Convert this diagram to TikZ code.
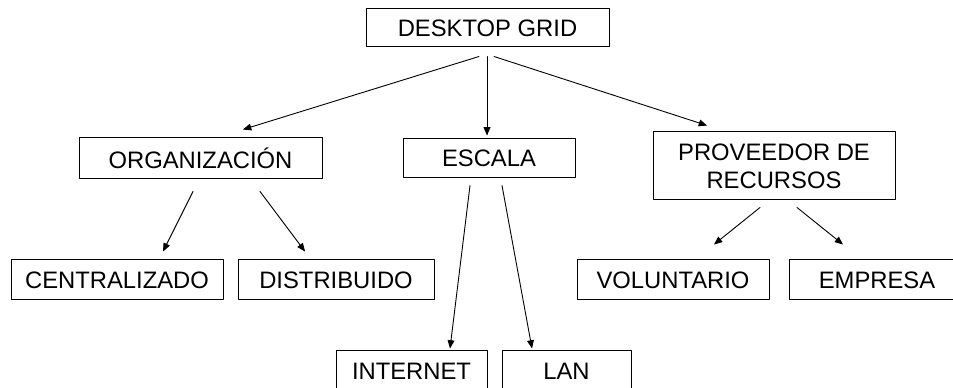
\documentclass[tikz,border=0pt]{standalone}
\usepackage{fontspec}
\setmainfont{Liberation Sans}
\usepackage{tikz}
\usetikzlibrary{arrows}

\begin{document}
\begin{tikzpicture}[line cap=round,line join=round,>=triangle 45,x=1pt,y=1pt,
  caja/.style={draw=black,line width=1pt,inner sep=0pt,align=center,
    font=\fontsize{23.8}{28}\selectfont},
  flecha/.style={->,line width=0.9pt,color=black}]
      \useasboundingbox (0,0) rectangle (953,388);
      \clip (0,0) rectangle (953,388);
      \node[caja,minimum width=243,minimum height=38] (grid) at (487.5,360) {DESKTOP GRID};
      \node[caja,minimum width=243,minimum height=41] (org) at (200.5,229.5) {ORGANIZACIÓN};
      \node[caja,minimum width=172,minimum height=39] (escala) at (489,229.5) {ESCALA};
      \node[caja,minimum width=242,minimum height=68] (prov) at (774,222) {PROVEEDOR DE\\RECURSOS};
      \node[caja,minimum width=212,minimum height=40] (central) at (117,108) {CENTRALIZADO};
      \node[caja,minimum width=196,minimum height=40] (distrib) at (336,108) {DISTRIBUIDO};
      \node[caja,minimum width=192,minimum height=40] (volunt) at (673,108) {VOLUNTARIO};
      \node[caja,minimum width=176,minimum height=40] (empresa) at (877,108) {EMPRESA};
      \node[caja,minimum width=151,minimum height=40] (internet) at (411.5,17) {INTERNET};
      \node[caja,minimum width=129,minimum height=40] (lan) at (566.5,17) {LAN};
      % primer nivel
      \draw[flecha] ([shift={(-8.5,-9)}]grid.south) -- ([shift={(42.5,8)}]org.north);
      \draw[flecha] ([shift={(-0.5,-9)}]grid.south) -- ([shift={(-2,3)}]escala.north);
      \draw[flecha] ([shift={(6.5,-9)}]grid.south) -- ([shift={(-67,6)}]prov.north);
      % segundo nivel
      \draw[flecha] ([shift={(-7.5,-12)}]org.south) -- ([shift={(46,8)}]central.north);
      \draw[flecha] ([shift={(59.5,-12)}]org.south) -- ([shift={(-31,8)}]distrib.north);
      \draw[flecha] ([shift={(-19,-7)}]escala.south) -- ([shift={(38.5,2)}]internet.north);
      \draw[flecha] ([shift={(13,-7)}]escala.south) -- ([shift={(-34.5,2)}]lan.north);
      \draw[flecha] ([shift={(-14,-7)}]prov.south) -- ([shift={(41,15)}]volunt.north);
      \draw[flecha] ([shift={(23,-7)}]prov.south) -- ([shift={(-34,15)}]empresa.north);
    \end{tikzpicture}
\end{document}
